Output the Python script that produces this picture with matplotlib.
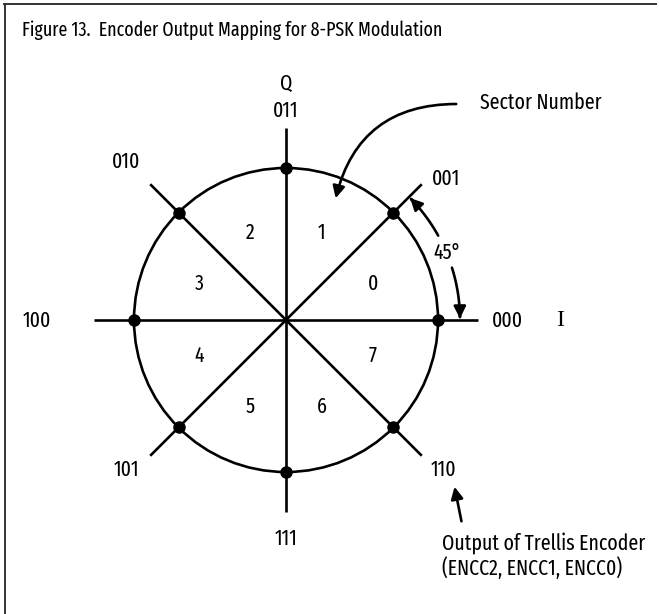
import numpy as np
import matplotlib
matplotlib.use("Agg")
import matplotlib.pyplot as plt
from matplotlib.patches import Circle, FancyArrowPatch
from matplotlib.path import Path
from matplotlib.lines import Line2D

plt.rcParams['font.family'] = ['Fira Sans Extra Condensed', 'Barlow Condensed', 'DejaVu Sans']

# ---- data ----
title = "Figure 13.  Encoder Output Mapping for 8-PSK Modulation"
symbols = ["000", "001", "011", "010", "100", "101", "111", "110"]
symbol_angles_deg = [0, 45, 90, 135, 180, 225, 270, 315]
sectors = ["0", "1", "2", "3", "4", "5", "6", "7"]
sector_angles_deg = [22.5, 67.5, 112.5, 157.5, 202.5, 247.5, 292.5, 337.5]
angle_label = "45°"
sector_note = "Sector Number"
encoder_note = "Output of Trellis Encoder\n(ENCC2, ENCC1, ENCC0)"

# ---- layout (pixel geometry of the reference) ----
W, H = 659, 614
CX, CY, R = 286, 320, 152.0
fig = plt.figure(figsize=(W / 100, H / 100), dpi=100)
ax = fig.add_axes([0, 0, 1, 1])
ax.set_xlim(-CX / R, (W - CX) / R)
ax.set_ylim(-(H - CY) / R, CY / R)
ax.set_aspect('equal')
ax.axis('off')

LW = 1.9
renderer = fig.canvas.get_renderer()


def fitted_size(txt, target_px, base=15):
    t = fig.text(0, 0, txt, fontsize=base)
    w = t.get_window_extent(renderer).width
    t.remove()
    return base * target_px / w


FS = np.mean([fitted_size(sector_note, 107), fitted_size("011", 30),
              fitted_size("Output of Trellis Encoder", 178)]) * 1.03
FS_T = fitted_size(title, 421)

# frame (top and left edges)
fig.add_artist(Line2D([4 / W, 656 / W], [1 - 4 / H, 1 - 4 / H], transform=fig.transFigure, color='#333333', lw=1.4))
fig.add_artist(Line2D([5 / W, 5 / W], [0, 1 - 4 / H], transform=fig.transFigure, color='#333333', lw=1.4))
fig.text(22 / W, 1 - 30 / H, title, fontsize=FS_T, va='center', ha='left')

# circle
ax.add_patch(Circle((0, 0), 1.0, fill=False, lw=LW, color='black'))

# spokes and points
L = 192 / R
for a in symbol_angles_deg[:4]:
    t = np.deg2rad(a)
    ax.plot([-L * np.cos(t), L * np.cos(t)], [-L * np.sin(t), L * np.sin(t)], color='black', lw=LW, solid_capstyle='butt')
for a in symbol_angles_deg:
    t = np.deg2rad(a)
    ax.plot(np.cos(t), np.sin(t), 'o', color='black', ms=8)

# symbol labels (pixel positions per label)
label_px = {"000": (507, 321), "001": (446, 179), "011": (286, 111), "010": (126, 162),
            "100": (37, 321), "101": (126, 470), "111": (286, 539), "110": (443, 470)}
for s in symbols:
    px, py = label_px[s]
    ax.text((px - CX) / R, (CY - py) / R, s, fontsize=FS, ha='center', va='center')

# axis labels
ax.text((560 - CX) / R, (CY - 321) / R, "I", fontsize=17, family='Liberation Serif', ha='center', va='center')
ax.text(0, (CY - 84) / R, "Q", fontsize=FS, ha='center', va='center')

# sector numbers
rs = 94 / R
for s, a in zip(sectors, sector_angles_deg):
    t = np.deg2rad(a)
    ax.text(rs * np.cos(t), rs * np.sin(t), s, fontsize=FS, ha='center', va='center')

# 45 degree arc with gap for text
ra = 174 / R
def arc_path(a0, a1, n=40):
    tt = np.deg2rad(np.linspace(a0, a1, n))
    verts = np.column_stack([ra * np.cos(tt), ra * np.sin(tt)])
    return Path(verts)
ax.add_patch(FancyArrowPatch(path=arc_path(29, 44.5), arrowstyle='-|>', mutation_scale=18, lw=LW, color='black'))
ax.add_patch(FancyArrowPatch(path=arc_path(17.5, 0.5), arrowstyle='-|>', mutation_scale=18, lw=LW, color='black'))
tt = np.deg2rad(22.5)
ax.text(175 / R * np.cos(tt), 175 / R * np.sin(tt), angle_label, fontsize=FS, ha='center', va='center')

# sector number note and curved arrow
ax.text((480 - CX) / R, (CY - 103) / R, sector_note, fontsize=FS, ha='left', va='center')
ax.add_patch(FancyArrowPatch(((459 - CX) / R, (CY - 104) / R), ((335 - CX) / R, (CY - 201) / R),
                             connectionstyle='arc3,rad=0.4', arrowstyle='-|>', mutation_scale=18,
                             lw=LW, color='black'))

# encoder note and arrow
ax.text((442 - CX) / R, (CY - 556) / R, encoder_note, fontsize=FS, ha='left', va='center', linespacing=1.15)
ax.add_patch(FancyArrowPatch(((462 - CX) / R, (CY - 524) / R), ((454 - CX) / R, (CY - 484) / R),
                             arrowstyle='-|>', mutation_scale=18, lw=LW, color='black'))

fig.savefig('out.png', dpi=100)
